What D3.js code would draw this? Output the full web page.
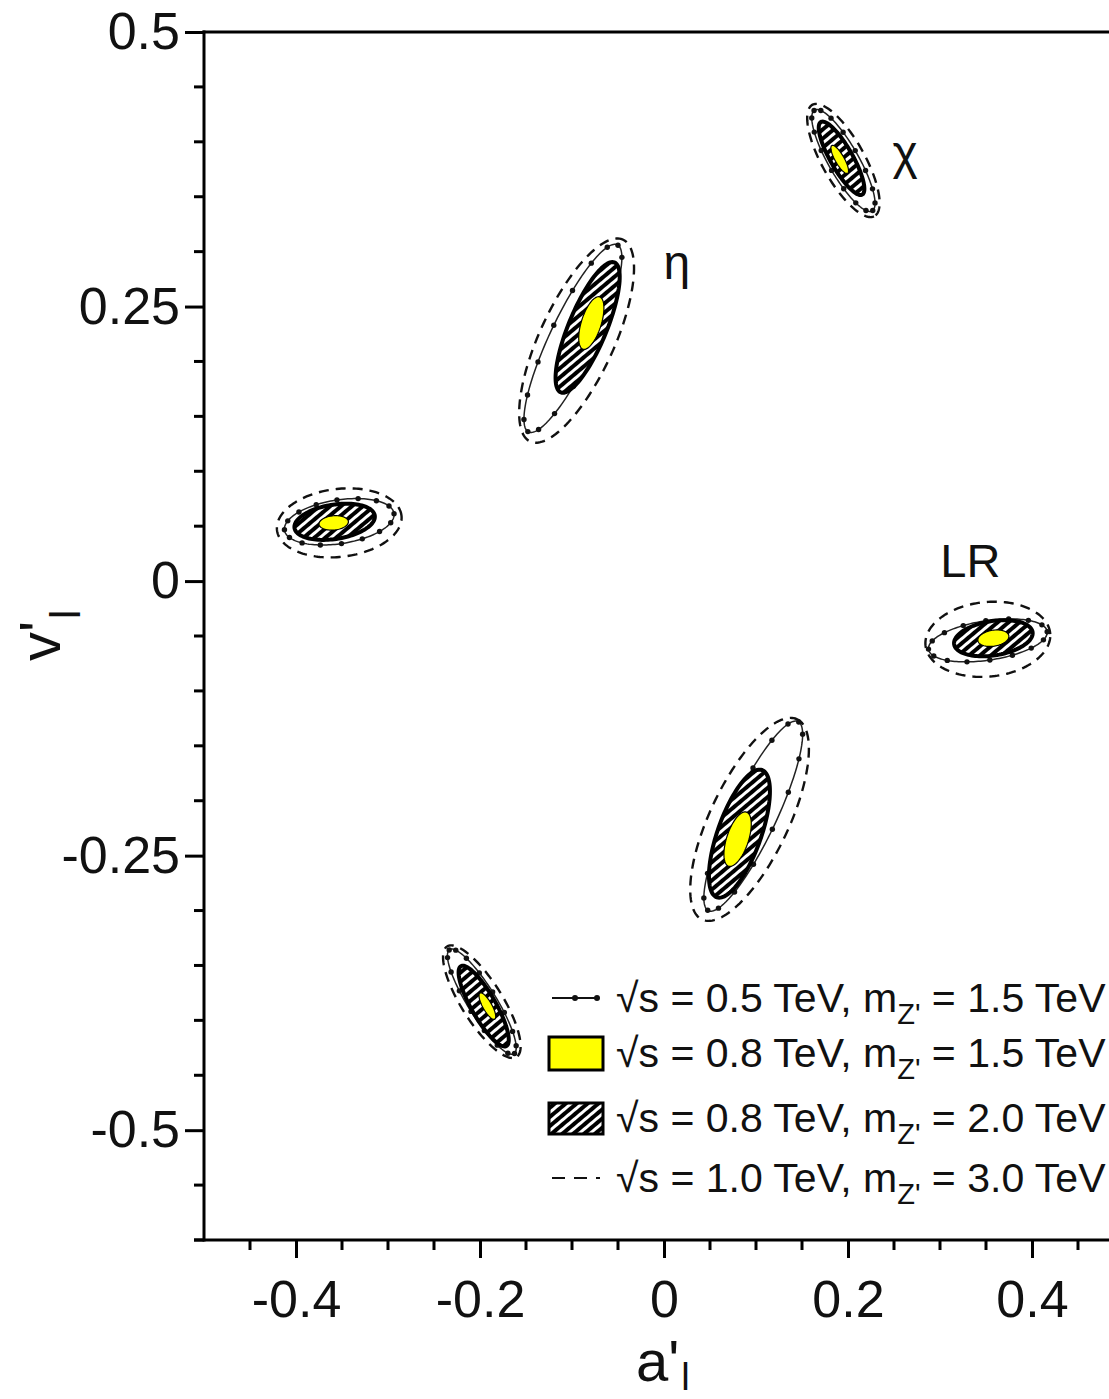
<!DOCTYPE html>
<html lang="en">
<head>
<meta charset="utf-8">
<title>Z' couplings</title>
<script src="https://d3js.org/d3.v7.min.js"></script>
<style>
  body { margin: 0; background: #fff; }
  svg { display: block; }
  text { font-family: "Liberation Sans", Arial, sans-serif; fill: #111; }
</style>
</head>
<body>
<div id="chart"></div>
<script>
// each contour: [a'_l centre, v'_l centre, semi-major, semi-minor, tilt in degrees]
var contours05 = [      // sqrt(s)=0.5 TeV, m_Z'=1.5 TeV  (line with dots)
  [0.195, 0.383, 0.0556, 0.0157, -55],
  [-0.099, 0.221, 0.098, 0.024, 60],
  [-0.353, 0.054, 0.060, 0.020, 7],
  [0.352, -0.054, 0.065, 0.018, 7],
  [0.097, -0.214, 0.099, 0.024, 60],
  [-0.198, -0.383, 0.059, 0.0147, -53]
];
var contours08a = [     // sqrt(s)=0.8 TeV, m_Z'=1.5 TeV  (yellow)
  [0.191, 0.384, 0.0153, 0.0047, -55],
  [-0.079, 0.235, 0.0255, 0.0106, 68],
  [-0.359, 0.053, 0.016, 0.0065, 4],
  [0.358, -0.052, 0.017, 0.0073, 7],
  [0.080, -0.235, 0.0265, 0.0116, 67],
  [-0.192, -0.387, 0.0144, 0.0047, -55]
];
var contours08b = [     // sqrt(s)=0.8 TeV, m_Z'=2.0 TeV  (hatched)
  [0.193, 0.385, 0.040, 0.0115, -55],
  [-0.083, 0.231, 0.066, 0.020, 63],
  [-0.358, 0.054, 0.044, 0.0157, 7],
  [0.358, -0.052, 0.043, 0.0157, 7],
  [0.082, -0.230, 0.063, 0.023, 66],
  [-0.196, -0.387, 0.044, 0.0126, -55]
];
var contours10 = [      // sqrt(s)=1.0 TeV, m_Z'=3.0 TeV  (dashed)
  [0.195, 0.383, 0.061, 0.022, -55],
  [-0.095, 0.219, 0.105, 0.039, 60],
  [-0.353, 0.053, 0.068, 0.031, 5],
  [0.352, -0.053, 0.068, 0.034, 4],
  [0.093, -0.217, 0.105, 0.041, 59],
  [-0.198, -0.383, 0.063, 0.021, -52]
];
var modelNames = ["χ", "η", "LR"];
var modelLabelPos = [[0.262, 0.39], [0.014, 0.29], [0.333, 0.019]];

var xMajor = [-0.4, -0.2, 0, 0.2, 0.4];
var xLabels = ["-0.4", "-0.2", "0", "0.2", "0.4"];
var yMajor = [0.5, 0.25, 0, -0.25, -0.5];
var yLabels = ["0.5", "0.25", "0", "-0.25", "-0.5"];
var legendLabels = [
  ["0.5", "1.5"],
  ["0.8", "1.5"],
  ["0.8", "2.0"],
  ["1.0", "3.0"]
];

var width = 1109, height = 1399;
var svg = d3.select("#chart").append("svg")
    .attr("width", width)
    .attr("height", height);

var x = d3.scaleLinear().domain([-0.5, 0.5]).range([204, 1124]);
var y = d3.scaleLinear().domain([-0.6, 0.5]).range([1240, 32]);

// hatch pattern
var defs = svg.append("defs");
var pat = defs.append("pattern")
    .attr("id", "hatch")
    .attr("patternUnits", "userSpaceOnUse")
    .attr("width", 7).attr("height", 7)
    .attr("patternTransform", "rotate(50)");
pat.append("rect").attr("width", 7).attr("height", 7).attr("fill", "#000");
pat.append("rect").attr("x", 0).attr("width", 3).attr("height", 7).attr("fill", "#fff");

function ellipsePoints(e, n) {
  var th = e[4] * Math.PI / 180;
  return d3.range(n).map(function(i) {
    var t = 2 * Math.PI * i / n;
    var c = Math.cos(t), s = Math.sin(t);
    return [e[0] + e[2] * c * Math.cos(th) - e[3] * s * Math.sin(th),
            e[1] + e[2] * c * Math.sin(th) + e[3] * s * Math.cos(th)];
  });
}
var line = d3.line()
    .x(function(d) { return x(d[0]); })
    .y(function(d) { return y(d[1]); })
    .curve(d3.curveLinearClosed);

var plot = svg.append("g");

// dashed (1.0 TeV)
plot.selectAll(".c10").data(contours10).enter().append("path")
    .attr("class", "c10")
    .attr("d", function(d) { return line(ellipsePoints(d, 160)); })
    .attr("fill", "none")
    .attr("stroke", "#111")
    .attr("stroke-width", 2.4)
    .attr("stroke-dasharray", "10,7");

// line with dots (0.5 TeV)
plot.selectAll(".c05").data(contours05).enter().append("path")
    .attr("class", "c05")
    .attr("d", function(d) { return line(ellipsePoints(d, 160)); })
    .attr("fill", "none")
    .attr("stroke", "#222")
    .attr("stroke-width", 1.5);
contours05.forEach(function(e) {
  plot.selectAll(null).data(ellipsePoints(e, 16)).enter().append("circle")
      .attr("cx", function(d) { return x(d[0]); })
      .attr("cy", function(d) { return y(d[1]); })
      .attr("r", 2.7)
      .attr("fill", "#111");
});

// hatched (0.8 TeV, 2.0 TeV)
plot.selectAll(".c08b").data(contours08b).enter().append("path")
    .attr("class", "c08b")
    .attr("d", function(d) { return line(ellipsePoints(d, 120)); })
    .attr("fill", "url(#hatch)")
    .attr("stroke", "#000")
    .attr("stroke-width", 4);

// yellow (0.8 TeV, 1.5 TeV)
plot.selectAll(".c08a").data(contours08a).enter().append("path")
    .attr("class", "c08a")
    .attr("d", function(d) { return line(ellipsePoints(d, 80)); })
    .attr("fill", "#ffff00")
    .attr("stroke", "#000")
    .attr("stroke-width", 1.2);

// model labels
svg.selectAll(".mlab").data(modelNames).enter().append("text")
    .attr("class", "mlab")
    .attr("x", function(d, i) { return x(modelLabelPos[i][0]); })
    .attr("y", function(d, i) { return y(modelLabelPos[i][1]); })
    .attr("text-anchor", "middle")
    .attr("dominant-baseline", "central")
    .style("font-size", function(d) { return d == "LR" ? "47px" : "48px"; })
    .text(function(d) { return d; });

// frame lines
var frame = svg.append("g").attr("stroke", "#000").attr("stroke-width", 3);
frame.append("line").attr("x1", x(-0.5)).attr("x2", x(-0.5)).attr("y1", y(0.5) - 1.5).attr("y2", y(-0.6) + 1.5);
frame.append("line").attr("x1", x(-0.5) - 1.5).attr("x2", x(0.5)).attr("y1", y(0.5)).attr("y2", y(0.5));
frame.append("line").attr("x1", x(-0.5) - 10).attr("x2", x(0.5)).attr("y1", y(-0.6)).attr("y2", y(-0.6));

// minor ticks
var yMinor = d3.range(-12, 10).map(function(i) { return i * 0.05; })
    .filter(function(v) { return yMajor.indexOf(Math.round(v * 100) / 100) < 0; });
frame.selectAll(".ymin").data(yMinor).enter().append("line")
    .attr("x1", x(-0.5) - 10).attr("x2", x(-0.5))
    .attr("y1", function(d) { return y(d); }).attr("y2", function(d) { return y(d); });
var xMinor = d3.range(-9, 10).map(function(i) { return i * 0.05; })
    .filter(function(v) { return xMajor.indexOf(Math.round(v * 100) / 100) < 0; });
frame.selectAll(".xmin").data(xMinor).enter().append("line")
    .attr("x1", function(d) { return x(d); }).attr("x2", function(d) { return x(d); })
    .attr("y1", y(-0.6)).attr("y2", y(-0.6) + 10);

// major ticks + labels through d3 axes
var yAxis = svg.append("g")
    .attr("transform", "translate(" + x(-0.5) + ",0)")
    .call(d3.axisLeft(y).tickValues(yMajor).tickSize(19).tickPadding(5)
        .tickFormat(function(d, i) { return yLabels[i]; }));
var xAxis = svg.append("g")
    .attr("transform", "translate(0," + y(-0.6) + ")")
    .call(d3.axisBottom(x).tickValues(xMajor).tickSize(18).tickPadding(22)
        .tickFormat(function(d, i) { return xLabels[i]; }));
[yAxis, xAxis].forEach(function(ax) {
  ax.select(".domain").remove();
  ax.selectAll(".tick line").attr("stroke", "#000").attr("stroke-width", 3);
  ax.selectAll(".tick text")
      .attr("fill", "#111")
      .style("font-family", "'Liberation Sans', Arial, sans-serif")
      .style("font-size", "52px");
});

// axis titles
var xt = svg.append("text").attr("x", 636).attr("y", 1381).style("font-size", "58px");
xt.append("tspan").text("a");
xt.append("tspan").text("'");
xt.append("tspan").attr("dx", 2).attr("dy", 9).style("font-size", "38px").text("l");

var yt = svg.append("text")
    .attr("transform", "translate(60,661) rotate(-90)")
    .style("font-size", "58px");
yt.append("tspan").text("v");
yt.append("tspan").text("'");
yt.append("tspan").attr("dx", 2).attr("dy", 20).style("font-size", "42px").text("l");

// legend
var legendY = [998, 1053, 1118, 1178];
var leg = svg.append("g");
leg.append("line").attr("x1", 552).attr("x2", 598).attr("y1", legendY[0]).attr("y2", legendY[0])
    .attr("stroke", "#111").attr("stroke-width", 2);
[575, 597].forEach(function(cx) {
  leg.append("circle").attr("cx", cx).attr("cy", legendY[0]).attr("r", 3).attr("fill", "#111");
});
leg.append("rect").attr("x", 549).attr("y", legendY[1] - 16).attr("width", 54).attr("height", 33)
    .attr("fill", "#ffff00").attr("stroke", "#000").attr("stroke-width", 3);
leg.append("rect").attr("x", 549).attr("y", legendY[2] - 15).attr("width", 54).attr("height", 31)
    .attr("fill", "url(#hatch)").attr("stroke", "#000").attr("stroke-width", 3);
leg.append("line").attr("x1", 552).attr("x2", 600).attr("y1", legendY[3]).attr("y2", legendY[3])
    .attr("stroke", "#111").attr("stroke-width", 2.2).attr("stroke-dasharray", "13,9");

legendLabels.forEach(function(l, i) {
  var t = leg.append("text").attr("x", 616).attr("y", legendY[i] + 14).style("font-size", "41px");
  t.append("tspan").text("√s = " + l[0] + " TeV, m");
  t.append("tspan").attr("dy", 12).style("font-size", "29px").text("Z'");
  t.append("tspan").attr("dy", -12).text(" = " + l[1] + " TeV");
});
</script>
</body>
</html>
